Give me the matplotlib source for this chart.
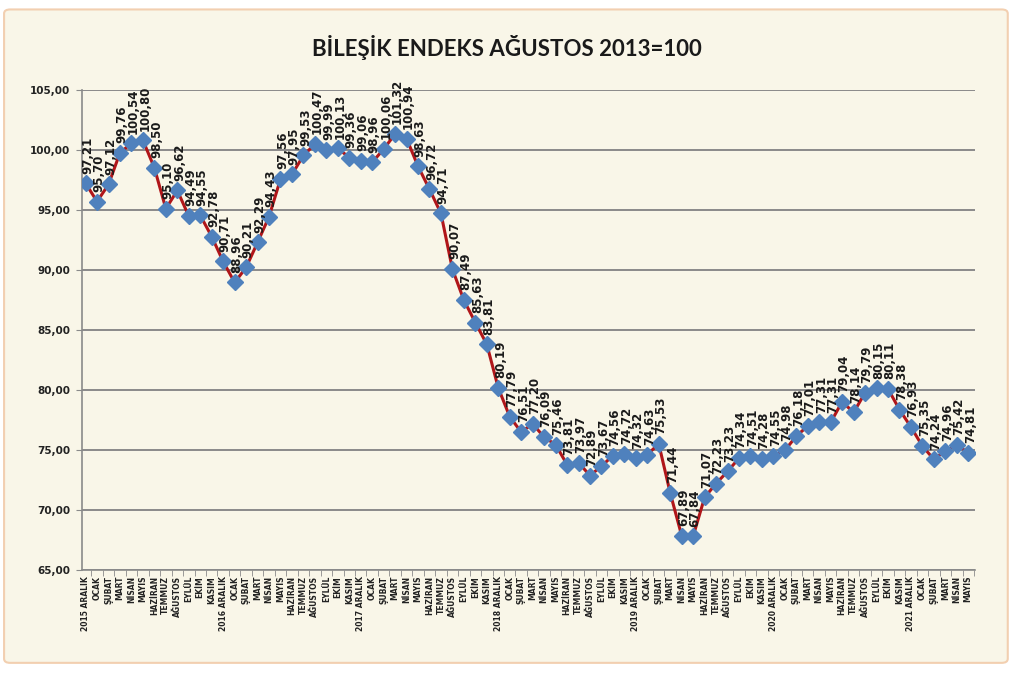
import matplotlib.pyplot as plt
from matplotlib.patches import FancyBboxPatch

# aylar (Aralık 2015 - Mayıs 2022)
aylar = ["OCAK", "ŞUBAT", "MART", "NİSAN", "MAYIS", "HAZİRAN",
         "TEMMUZ", "AĞUSTOS", "EYLÜL", "EKİM", "KASIM"]
yillar = [2015, 2016, 2017, 2018, 2019, 2020, 2021]

etiketler = []
for y in yillar:
    etiketler += [str(y) + " ARALIK"]
    if y < 2021:
        etiketler += aylar
    else:
        etiketler += aylar[:5]

endeks = [97.21, 95.70, 97.12, 99.76, 100.54, 100.80, 98.50, 95.10, 96.62, 94.49, 94.55, 92.78,
          90.71, 88.96, 90.21, 92.29, 94.43, 97.56, 97.95, 99.53, 100.47, 99.99, 100.13, 99.36,
          99.06, 98.96, 100.06, 101.32, 100.94, 98.63, 96.72, 94.71, 90.07, 87.49, 85.63, 83.81,
          80.19, 77.79, 76.51, 77.20, 76.09, 75.46, 73.81, 73.97, 72.89, 73.67, 74.56, 74.72,
          74.32, 74.63, 75.53, 71.44, 67.89, 67.84, 71.07, 72.23, 73.23, 74.34, 74.51, 74.28,
          74.55, 74.98, 76.18, 77.01, 77.31, 77.31, 79.04, 78.14, 79.79, 80.15, 80.11, 78.38,
          76.93, 75.35, 74.24, 74.96, 75.42, 74.81]

krem = "#f9f6e8"
fig = plt.figure(figsize=(10.2, 6.75), dpi=100, facecolor="white")
fig.patches.append(FancyBboxPatch((0.004, 0.018), 0.984, 0.968, boxstyle="round,pad=0,rounding_size=0.006",
                                  transform=fig.transFigure, facecolor=krem, edgecolor="#f2cfb0",
                                  linewidth=1.5, zorder=-10))

ax = fig.add_axes([0.080, 0.155, 0.876, 0.712])
ax.set_facecolor(krem)

x = list(range(len(endeks)))
ax.plot(x, endeks, color="#b0161a", linewidth=2.2, zorder=3)
ax.plot(x, endeks, linestyle="none", marker="D", markersize=8.5, color="#4f81bd",
        markeredgecolor="#4f81bd", zorder=4)

# etiketler noktaların üstünde, dikey
for i in x:
    ax.annotate(("%.2f" % endeks[i]).replace(".", ","), (i, endeks[i]), xytext=(1.5, 7),
                textcoords="offset points", rotation=90, ha="center", va="bottom",
                fontsize=8.5, fontweight="bold", color="#1a1a1a", zorder=5)

ax.set_ylim(65, 105)
ax.set_yticks(range(65, 106, 5))
ax.set_yticklabels([("%.2f" % v).replace(".", ",") for v in range(65, 106, 5)],
                   fontsize=7.5, fontweight="bold", color="#222222")
ax.grid(axis="y", color="#8a8a8a", linewidth=1.4)
ax.set_axisbelow(True)

ax.set_xlim(-0.35, 77.6)
ax.set_xticks(x)
ax.set_xticklabels(etiketler, rotation=90, fontsize=5.5, fontweight="bold", color="#222222")
ax.tick_params(axis="x", length=0, pad=4)
ax.set_xticks([i + 0.5 for i in x], minor=True)
ax.tick_params(axis="x", which="minor", length=4, color="#8a8a8a")
ax.tick_params(axis="y", length=4, color="#8a8a8a", pad=4)

for s in ["top", "right"]:
    ax.spines[s].set_visible(False)
for s in ["left", "bottom"]:
    ax.spines[s].set_color("#8a8a8a")
    ax.spines[s].set_linewidth(1.2)

fig.text(0.497, 0.93, "BİLEŞİK ENDEKS AĞUSTOS 2013=100", ha="center", va="center",
         fontsize=16, fontweight="bold", family="Lato", color="#1a1a1a")

fig.savefig("out.png", dpi=100, facecolor=fig.get_facecolor())
